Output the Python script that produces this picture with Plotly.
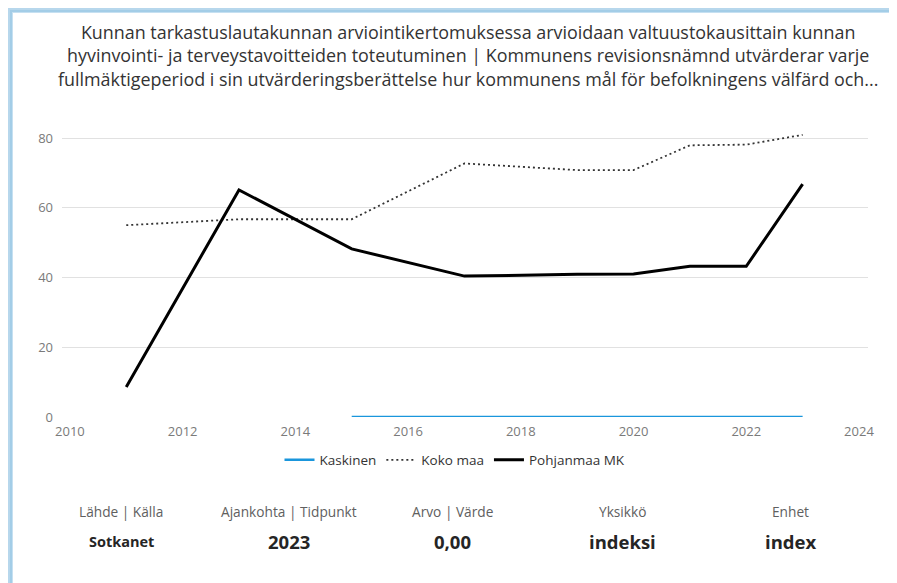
import plotly.graph_objects as go

# ---- data ----
years_kaskinen = [2015, 2017, 2019, 2020, 2021, 2022, 2023]
kaskinen = [0, 0, 0, 0, 0, 0, 0]

years_koko = [2011, 2013, 2015, 2017, 2019, 2020, 2021, 2022, 2023]
koko_maa = [55.0, 56.7, 56.7, 72.7, 70.8, 70.8, 77.9, 78.1, 80.9]

years_pohj = [2011, 2013, 2015, 2017, 2019, 2020, 2021, 2022, 2023]
pohjanmaa = [8.6, 65.1, 48.2, 40.4, 40.9, 41.0, 43.2, 43.2, 66.8]

series_names = ["Kaskinen", "Koko maa", "Pohjanmaa MK"]
y_ticks = [0, 20, 40, 60, 80]
x_ticks = [2010, 2012, 2014, 2016, 2018, 2020, 2022, 2024]

title_lines = [
    "Kunnan tarkastuslautakunnan arviointikertomuksessa arvioidaan valtuustokausittain kunnan",
    "hyvinvointi- ja terveystavoitteiden toteutuminen | Kommunens revisionsnämnd utvärderar varje",
    "fullmäktigeperiod i sin utvärderingsberättelse hur kommunens mål för befolkningens välfärd och...",
]
info_labels = ["Lähde | Källa", "Ajankohta | Tidpunkt", "Arvo | Värde", "Yksikkö", "Enhet"]
info_values = ["Sotkanet", "2023", "0,00", "indeksi", "index"]

# ---- layout geometry (pixels in the page; the page body adds an 8px offset) ----
OFF = 8
W, H = 897 - OFF, 583 - OFF
PL, PR, PT, PB = 62 - OFF, 868 - OFF, 120 - OFF, 417 - OFF  # plot area in figure pixels


def px(x):  # page pixel -> paper x
    return (x - OFF - PL) / (PR - PL)


def py(y):  # page pixel -> paper y
    return (PB - (y - OFF)) / (PB - PT)


FONT = "Open Sans"

fig = go.Figure()
fig.add_trace(go.Scatter(x=years_kaskinen, y=kaskinen, mode="lines", name=series_names[0],
                         line=dict(color="#1a96dc", width=2.5)))
fig.add_trace(go.Scatter(x=years_koko, y=koko_maa, mode="lines", name=series_names[1],
                         line=dict(color="#333333", width=1.8, dash="2px,3px")))
fig.add_trace(go.Scatter(x=years_pohj, y=pohjanmaa, mode="lines", name=series_names[2],
                         line=dict(color="#000000", width=3)))

annotations = []
annotations.append(dict(
    text="<br>".join(title_lines), x=px(468), y=py(55), xref="paper", yref="paper",
    xanchor="center", yanchor="middle", showarrow=False, align="center",
    font=dict(family=FONT, size=17.9, color="#333333"),
))
label_x = [121, 289, 452, 622, 790]
for i, (lab, val) in enumerate(zip(info_labels, info_values)):
    annotations.append(dict(text=lab, x=px(label_x[i]), y=py(511), xref="paper", yref="paper",
                            xanchor="center", yanchor="middle", showarrow=False,
                            font=dict(family=FONT, size=13.7, color="#606060")))
    annotations.append(dict(text="<b>" + val + "</b>", x=px(label_x[i]), y=py(541), xref="paper",
                            yref="paper", xanchor="center", yanchor="middle", showarrow=False,
                            font=dict(family=FONT, size=14.5 if i == 0 else 18.5, color="#252525")))

shapes = []
# frame shadow (light blue) on left and top edges
shade = [("#b7d7ec", 0, 2), ("#a3cde7", 2, 4), ("#c6e0f1", 4, 5)]
for c, a, b in shade:
    shapes.append(dict(type="rect", xref="paper", yref="paper", x0=px(OFF + a), x1=px(OFF + b),
                       y0=py(H + 20), y1=py(OFF + a), fillcolor=c, line=dict(width=0), layer="below"))
    shapes.append(dict(type="rect", xref="paper", yref="paper", x0=px(OFF + a), x1=px(W + 20),
                       y0=py(OFF + a), y1=py(OFF + b), fillcolor=c, line=dict(width=0), layer="below"))

fig.update_layout(
    width=W, height=H,
    margin=dict(l=PL, r=W - PR, t=PT, b=H - PB, autoexpand=False),
    paper_bgcolor="#ffffff", plot_bgcolor="rgba(0,0,0,0)",
    font=dict(family=FONT, size=12, color="#777777"),
    showlegend=True,
    legend=dict(orientation="h", x=px(455), y=py(460), xanchor="center", yanchor="middle",
                font=dict(family=FONT, size=13.5, color="#333333"), itemwidth=30,
                bgcolor="rgba(0,0,0,0)"),
    xaxis=dict(range=[2009.86, 2024.16], tickvals=x_ticks, showgrid=False, zeroline=False,
               showline=False, ticks="", tickfont=dict(size=13, color="#7a7a7a"),
               ticklabelstandoff=5),
    yaxis=dict(range=[0, 80 * (PB - PT) / (PB - (138 - OFF))], tickvals=y_ticks, showgrid=True,
               gridcolor="#e1e1e1", gridwidth=1, zeroline=False, showline=False, ticks="",
               tickfont=dict(size=13, color="#7a7a7a"), ticklabelstandoff=8),
    annotations=annotations,
    shapes=shapes,
)

fig.write_html("out.html")
